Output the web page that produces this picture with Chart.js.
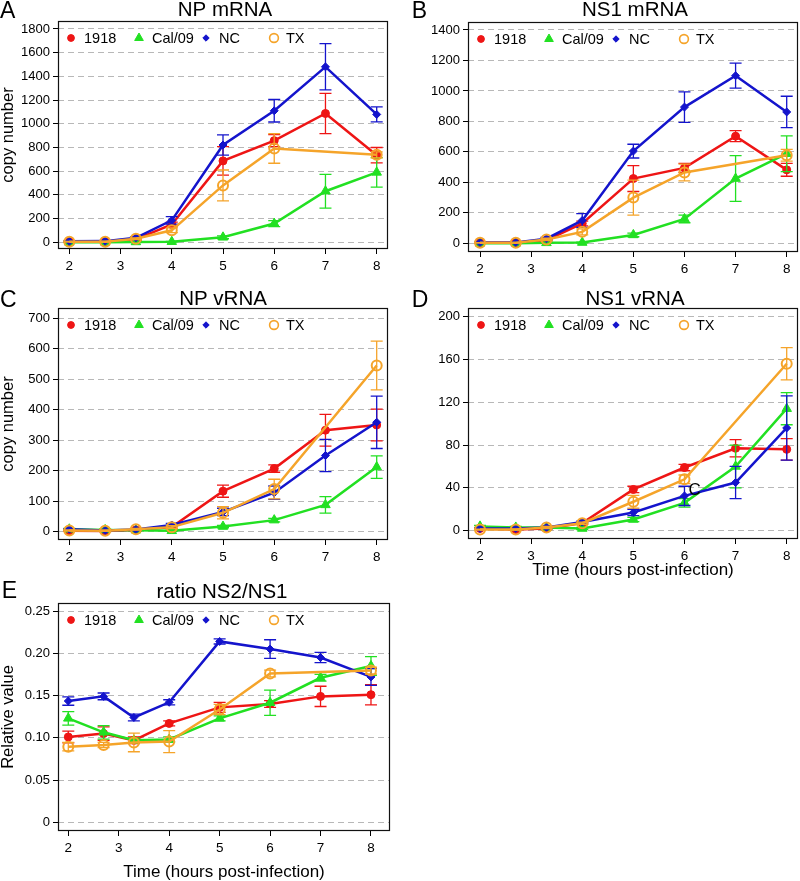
<!DOCTYPE html>
<html>
<head>
<meta charset="utf-8">
<script src="https://cdn.jsdelivr.net/npm/chart.js@4.4.1/dist/chart.umd.min.js"></script>
<style>
html,body{margin:0;padding:0;background:#fff;}
#wrap{position:relative;width:800px;height:881px;overflow:hidden;background:#fff;}
.panel{position:absolute;}
canvas{display:block;}
</style>
</head>
<body>
<div id="wrap">
  <div class="panel" style="left:0;top:0;"><canvas id="cA" width="400" height="290"></canvas></div>
  <div class="panel" style="left:400px;top:0;"><canvas id="cB" width="400" height="290"></canvas></div>
  <div class="panel" style="left:0;top:290px;"><canvas id="cC" width="400" height="290"></canvas></div>
  <div class="panel" style="left:400px;top:290px;"><canvas id="cD" width="400" height="290"></canvas></div>
  <div class="panel" style="left:0;top:580px;"><canvas id="cE" width="400" height="301"></canvas></div>
</div>
<script>
// ---------------- DATA ----------------
const timePoints = [2, 2.7, 3.3, 4, 5, 6, 7, 8];
const xTickValues = [2, 3, 4, 5, 6, 7, 8];
const strainNames = ['1918', 'Cal/09', 'NC', 'TX'];

// A: NP mRNA
const npMrnaTicks = [0, 200, 400, 600, 800, 1000, 1200, 1400, 1600, 1800];
const npMrna1918 = [5, 5, 25, 150, 687, 858, 1087, 735];
const npMrna1918Err = [3, 3, 8, 20, 120, 50, 170, 65];
const npMrnaCal09 = [0, 0, 3, 5, 42, 158, 431, 590];
const npMrnaCal09Err = [1, 1, 2, 3, 12, 25, 143, 125];
const npMrnaNC = [8, 10, 38, 185, 821, 1110, 1481, 1079];
const npMrnaNCErr = [3, 3, 8, 32, 85, 95, 195, 63];
const npMrnaTX = [5, 5, 30, 101, 480, 792, null, 738];
const npMrnaTXErr = [3, 3, 8, 20, 130, 125, null, 25];

// B: NS1 mRNA
const ns1MrnaTicks = [0, 200, 400, 600, 800, 1000, 1200, 1400];
const ns1Mrna1918 = [3, 3, 20, 130, 425, 495, 703, 482];
const ns1Mrna1918Err = [2, 2, 5, 15, 85, 30, 36, 42];
const ns1MrnaCal09 = [0, 0, 3, 5, 55, 160, 425, 588];
const ns1MrnaCal09Err = [1, 1, 2, 3, 12, 25, 150, 117];
const ns1MrnaNC = [5, 5, 30, 150, 605, 894, 1100, 862];
const ns1MrnaNCErr = [2, 2, 8, 45, 45, 100, 82, 103];
const ns1MrnaTX = [3, 3, 25, 75, 300, 465, null, 578];
const ns1MrnaTXErr = [2, 2, 8, 20, 115, 55, null, 38];

// C: NP vRNA
const npVrnaTicks = [0, 100, 200, 300, 400, 500, 600, 700];
const npVrna1918 = [3, 2, 6, 15, 133, 207, 333, 350];
const npVrna1918Err = [2, 2, 3, 5, 20, 12, 52, 52];
const npVrnaCal09 = [8, 6, 5, 3, 17, 38, 88, 212];
const npVrnaCal09Err = [3, 3, 2, 2, 4, 6, 27, 37];
const npVrnaNC = [8, 4, 7, 22, 65, 128, 250, 359];
const npVrnaNCErr = [2, 2, 3, 5, 12, 22, 53, 86];
const npVrnaTX = [4, 3, 8, 15, 62, 140, null, 545];
const npVrnaTXErr = [2, 2, 3, 5, 20, 32, null, 80];

// D: NS1 vRNA
const ns1VrnaTicks = [0, 40, 80, 120, 160, 200];
const ns1Vrna1918 = [2, 1, 2, 7, 38.5, 59, 77, 76];
const ns1Vrna1918Err = [0.5, 0.5, 1, 1, 3, 3, 8, 10];
const ns1VrnaCal09 = [4, 3, 3, 2, 10.5, 26, 60, 114];
const ns1VrnaCal09Err = [1, 1, 1, 1, 2, 4, 20, 15];
const ns1VrnaNC = [2, 2, 3, 8, 17, 32.5, 45, 96];
const ns1VrnaNCErr = [0.5, 0.5, 1, 1, 3, 9, 15, 30];
const ns1VrnaTX = [1, 1, 3, 7, 27, 48, null, 156];
const ns1VrnaTXErr = [0.5, 0.5, 1, 1, 6, 4, null, 15];

// E: ratio NS2/NS1
const ratioTicks = [0, 0.05, 0.10, 0.15, 0.20, 0.25];
const ratio1918 = [0.101, 0.105, 0.097, 0.117, 0.136, 0.140, 0.149, 0.151];
const ratio1918Err = [0.007, 0.008, 0.004, 0.003, 0.006, 0.004, 0.012, 0.012];
const ratioCal09 = [0.123, 0.1065, 0.097, 0.098, 0.123, 0.1415, 0.171, 0.185];
const ratioCal09Err = [0.008, 0.008, 0.003, 0.003, 0.003, 0.015, 0.004, 0.011];
const ratioNC = [0.1435, 0.149, 0.124, 0.142, 0.214, 0.205, 0.195, 0.172];
const ratioNCErr = [0.005, 0.004, 0.004, 0.003, 0.003, 0.011, 0.006, 0.010];
const ratioTX = [0.0895, 0.0915, 0.0945, 0.0955, 0.1335, 0.176, null, 0.1795];
const ratioTXErr = [0.005, 0.003, 0.011, 0.013, 0.006, 0.004, null, 0.004];

// stray annotation letter in panel D (data coordinates)
const strayLabelD = {text: 'C', x: 6.08, y: 38};

// ---------------- STYLE ----------------
const FONT = "'Liberation Sans', Arial, Helvetica, sans-serif";
const strainColors = ['#ee1515', '#22e022', '#1414cc', '#f5a42a'];
const strainStyles = [
  {pointStyle: 'circle', radius: 4, fill: true, bw: 1, lr: 3.4},
  {pointStyle: 'triangle', radius: 5.5, fill: true, bw: 1, lr: 5},
  {pointStyle: 'rectRot', radius: 4, fill: true, bw: 1, lr: 3.2},
  {pointStyle: 'circle', radius: 5, fill: false, bw: 2, lr: 4.4}
];
const legendMarkerOffsets = [13, 81, 148, 216];
const legendTextOffsets = [26, 94, 161, 228];

Chart.defaults.font.family = FONT;
Chart.defaults.color = '#000';

function drawShape(ctx, style, radius, x, y, color, bw) {
  ctx.save();
  ctx.fillStyle = style.fill ? color : 'rgba(0,0,0,0)';
  ctx.strokeStyle = color;
  ctx.lineWidth = bw;
  if (Chart.helpers && Chart.helpers.drawPoint) {
    Chart.helpers.drawPoint(ctx, {pointStyle: style.pointStyle, radius: radius, borderWidth: bw, rotation: 0}, x, y);
  } else {
    ctx.beginPath();
    ctx.arc(x, y, radius, 0, Math.PI * 2);
    if (style.fill) ctx.fill();
    ctx.stroke();
  }
  ctx.restore();
}

const decorPlugin = {
  id: 'decor',
  afterDatasetDraw(chart, args) {
    const ds = chart.data.datasets[args.index];
    const xs = chart.scales.x, ys = chart.scales.y, ctx = chart.ctx;
    ctx.save();
    ctx.strokeStyle = ds.borderColor;
    ctx.lineWidth = 1.3;
    ds.data.forEach((p, i) => {
      const e = ds.errors[i];
      if (p.y === null || e === null || e === undefined) return;
      const x = xs.getPixelForValue(p.x);
      const yT = ys.getPixelForValue(p.y + e);
      const yB = ys.getPixelForValue(p.y - e);
      ctx.beginPath();
      ctx.moveTo(x, yT); ctx.lineTo(x, yB);
      ctx.moveTo(x - 6, yT); ctx.lineTo(x + 6, yT);
      ctx.moveTo(x - 6, yB); ctx.lineTo(x + 6, yB);
      ctx.stroke();
    });
    ctx.restore();
  },
  afterDraw(chart) {
    const o = chart.options.plugins.decor;
    const a = chart.chartArea, ctx = chart.ctx;
    ctx.save();
    // frame
    ctx.strokeStyle = '#111';
    ctx.lineWidth = 1.2;
    ctx.strokeRect(a.left + 0.5, a.top + 0.5, a.right - a.left - 1, a.bottom - a.top - 1);
    // panel letter
    ctx.fillStyle = '#000';
    ctx.textAlign = 'left';
    ctx.textBaseline = 'alphabetic';
    ctx.font = '23px ' + FONT;
    ctx.fillText(o.letter, o.letterX, o.letterY);
    // title
    ctx.textAlign = 'center';
    ctx.font = '20.5px ' + FONT;
    ctx.fillText(o.title, (a.left + a.right) / 2 + o.titleDx, o.titleY);
    // legend
    const ly = a.top + 17;
    chart.data.datasets.forEach((ds, k) => {
      const st = strainStyles[k];
      drawShape(ctx, st, st.lr, a.left + legendMarkerOffsets[k], ly, ds.borderColor, st.fill ? 1 : 1.6);
      ctx.fillStyle = '#000';
      ctx.textAlign = 'left';
      ctx.font = '14.5px ' + FONT;
      ctx.fillText(ds.label, a.left + legendTextOffsets[k], ly + 5);
    });
    // stray label
    if (o.stray) {
      ctx.font = '17px ' + FONT;
      ctx.textAlign = 'left';
      ctx.textBaseline = 'middle';
      ctx.fillStyle = '#000';
      ctx.fillText(o.stray.text, chart.scales.x.getPixelForValue(o.stray.x), chart.scales.y.getPixelForValue(o.stray.y));
    }
    ctx.restore();
  }
};

function makePanel(spec) {
  const series = spec.series;
  const datasets = series.map((s, k) => ({
    label: strainNames[k],
    data: timePoints.map((t, i) => ({x: t, y: s[0][i]})),
    errors: s[1],
    borderColor: strainColors[k],
    backgroundColor: strainColors[k],
    borderWidth: 2.5,
    tension: 0,
    spanGaps: true,
    pointStyle: strainStyles[k].pointStyle,
    pointRadius: strainStyles[k].radius,
    pointBorderWidth: strainStyles[k].bw,
    pointBackgroundColor: strainStyles[k].fill ? strainColors[k] : 'rgba(0,0,0,0)',
    pointBorderColor: strainColors[k],
    order: 4 - k
  }));
  const W = spec.W, H = spec.H, box = spec.box;
  new Chart(document.getElementById(spec.id), {
    type: 'line',
    data: {datasets},
    plugins: [decorPlugin],
    options: {
      responsive: false,
      animation: false,
      events: [],
      layout: {autoPadding: false, padding: {left: 0, top: box.t, right: W - box.r, bottom: 0}},
      plugins: {
        legend: {display: false},
        title: {display: false},
        tooltip: {enabled: false},
        decor: {letter: spec.letter, letterX: spec.letterX, letterY: spec.letterY,
                title: spec.title, titleY: spec.titleY, titleDx: spec.titleDx || 0, stray: spec.stray}
      },
      scales: {
        x: {
          type: 'linear',
          min: spec.xMin, max: spec.xMax,
          afterFit(s) { s.height = H - box.b; },
          afterBuildTicks(s) { s.ticks = xTickValues.map(v => ({value: v})); },
          ticks: {autoSkip: false, maxRotation: 0, minRotation: 0, padding: 4,
                  font: {size: 13.5}, color: '#000', callback: v => String(v)},
          grid: {drawOnChartArea: false, drawTicks: true, tickLength: 5, tickColor: '#000', tickWidth: 1},
          border: {display: false},
          title: spec.xTitle ? {display: true, text: spec.xTitle, font: {size: 17}, color: '#000',
                                padding: {top: 0, bottom: spec.xTitlePad}} : {display: false}
        },
        y: {
          type: 'linear',
          min: spec.yMin, max: spec.yMax,
          afterFit(s) { s.width = box.l; },
          afterBuildTicks(s) { s.ticks = spec.yTicks.map(v => ({value: v})); },
          ticks: {autoSkip: false, padding: 3, font: {size: 13}, color: '#000',
                  callback: spec.yFmt},
          grid: {drawOnChartArea: true, drawTicks: true, tickLength: 5, color: '#b8b8b8', lineWidth: 1,
                 tickColor: '#000', tickWidth: 1, tickBorderDash: []},
          border: {display: false, dash: [6, 4]},
          title: spec.yTitle ? {display: true, text: spec.yTitle, font: {size: 16.5}, color: '#000',
                                padding: {top: -1, bottom: 0}} : {display: false}
        }
      }
    }
  });
}

const intFmt = v => String(v);
const ratioFmt = v => (v === 0 ? '0' : v.toFixed(2));

makePanel({id: 'cA', W: 400, H: 290, box: {l: 58, t: 21, r: 388, b: 249},
  letter: 'A', letterX: 0, letterY: 18.3, title: 'NP mRNA', titleY: 16, titleDx: 2,
  yTitle: 'copy number', xTitle: null,
  xMin: 1.7794, xMax: 8.2206, yMin: -56.5, yMax: 1867.5, yTicks: npMrnaTicks, yFmt: intFmt,
  series: [[npMrna1918, npMrna1918Err], [npMrnaCal09, npMrnaCal09Err], [npMrnaNC, npMrnaNCErr], [npMrnaTX, npMrnaTXErr]]});

makePanel({id: 'cB', W: 400, H: 290, box: {l: 68, t: 22, r: 398, b: 252},
  letter: 'B', letterX: 11.7, letterY: 18.3, title: 'NS1 mRNA', titleY: 16, titleDx: 2,
  yTitle: null, xTitle: null,
  xMin: 1.765, xMax: 8.221, yMin: -57.1, yMax: 1452.5, yTicks: ns1MrnaTicks, yFmt: intFmt,
  series: [[ns1Mrna1918, ns1Mrna1918Err], [ns1MrnaCal09, ns1MrnaCal09Err], [ns1MrnaNC, ns1MrnaNCErr], [ns1MrnaTX, ns1MrnaTXErr]]});

makePanel({id: 'cC', W: 400, H: 290, box: {l: 58, t: 18, r: 388, b: 250},
  letter: 'C', letterX: 0, letterY: 16.7, title: 'NP vRNA', titleY: 15, titleDx: 0,
  yTitle: 'copy number', xTitle: null,
  xMin: 1.7794, xMax: 8.2206, yMin: -27.2, yMax: 733.8, yTicks: npVrnaTicks, yFmt: intFmt,
  series: [[npVrna1918, npVrna1918Err], [npVrnaCal09, npVrnaCal09Err], [npVrnaNC, npVrnaNCErr], [npVrnaTX, npVrnaTXErr]]});

makePanel({id: 'cD', W: 400, H: 290, box: {l: 68, t: 18, r: 398, b: 249},
  letter: 'D', letterX: 11.7, letterY: 16.7, title: 'NS1 vRNA', titleY: 15, titleDx: 2,
  yTitle: null, xTitle: 'Time (hours post-infection)', xTitlePad: -1,
  xMin: 1.765, xMax: 8.221, yMin: -7.8, yMax: 208.1, yTicks: ns1VrnaTicks, yFmt: intFmt,
  stray: strayLabelD,
  series: [[ns1Vrna1918, ns1Vrna1918Err], [ns1VrnaCal09, ns1VrnaCal09Err], [ns1VrnaNC, ns1VrnaNCErr], [ns1VrnaTX, ns1VrnaTXErr]]});

makePanel({id: 'cE', W: 400, H: 301, box: {l: 58, t: 23, r: 390, b: 251},
  letter: 'E', letterX: 1.7, letterY: 18.3, title: 'ratio NS2/NS1', titleY: 18.3, titleDx: -2,
  yTitle: 'Relative value', xTitle: 'Time (hours post-infection)', xTitlePad: -1.7,
  xMin: 1.796, xMax: 8.377, yMin: -0.0103, yMax: 0.2595, yTicks: ratioTicks, yFmt: ratioFmt,
  series: [[ratio1918, ratio1918Err], [ratioCal09, ratioCal09Err], [ratioNC, ratioNCErr], [ratioTX, ratioTXErr]]});
</script>
</body>
</html>
